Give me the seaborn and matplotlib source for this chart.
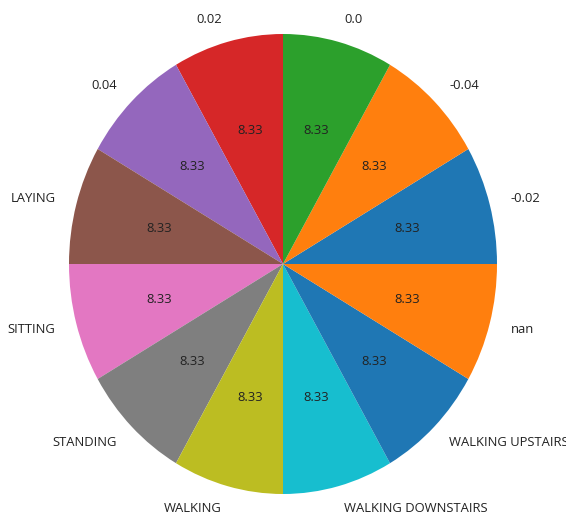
import matplotlib
matplotlib.use("Agg")
import matplotlib.pyplot as plt
import seaborn as sns

labels = ["-0.02", "-0.04", "0.0", "0.02", "0.04", "LAYING", "SITTING",
          "STANDING", "WALKING", "WALKING DOWNSTAIRS", "WALKING UPSTAIRS", "nan"]
values = [1, 1, 1, 1, 1, 1, 1, 1, 1, 1, 1, 1]

sns.set_style("white")
plt.rcParams['font.family'] = ['Open Sans', 'DejaVu Sans']
palette = sns.color_palette("tab10", 10)
colors = [palette[i % 10] for i in range(len(values))]

fig = plt.figure(figsize=(5.66, 5.16), dpi=100)
ax = fig.add_axes([0, 0, 1, 1])
ax.pie(values, labels=labels, colors=colors, autopct='%.2f',
       wedgeprops={'edgecolor': 'none', 'linewidth': 0},
       textprops={'fontsize': 9.4, 'color': '#222222'})
ax.set_aspect('auto')
ax.set_xlim(-283 / 214, (566 - 283) / 214)
ax.set_ylim(-(516 - 264) / 230, 264 / 230)
ax.axis('off')
fig.savefig("out.png", dpi=100)
